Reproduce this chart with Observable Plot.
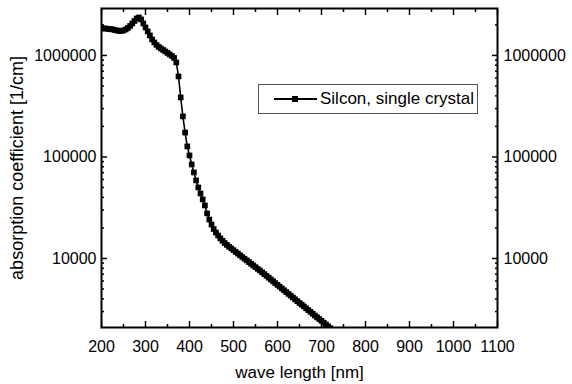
<!DOCTYPE html>
<html>
<head>
<meta charset="utf-8">
<script src="https://cdn.jsdelivr.net/npm/d3@7"></script>
<script src="https://cdn.jsdelivr.net/npm/@observablehq/plot@0.6"></script>
<style>
  html, body { margin: 0; padding: 0; background: #fff; }
  #wrap { position: relative; width: 572px; height: 384px; font-family: "Liberation Sans", Arial, sans-serif; }
  #legend { position: absolute; left: 258px; top: 84px; width: 220px; height: 30px; box-sizing: border-box;
            border: 1px solid #555; background: #fff; }
  #legend svg { position: absolute; left: 0; top: 0; }
  #legend span { position: absolute; left: 61px; top: 4px; font-size: 17px; color: #000; white-space: nowrap; }
</style>
</head>
<body>
<div id="wrap"></div>
<script>
const wavelength = [200,205,210,215,220,225,230,235,240,245,250,255,260,265,270,275,280,285,290,295,
  300,305,310,315,320,325,330,335,340,345,350,355,360,365,370,375,380,385,390,395,
  400,405,410,415,420,425,430,435,440,445,450,455,460,465,470,475,480,485,490,495,
  500,505,510,515,520,525,530,535,540,545,550,555,560,565,570,575,580,585,590,595,
  600,605,610,615,620,625,630,635,640,645,650,655,660,665,670,675,680,685,690,695,
  700,705,710,715,720,725,730];
const absorption = [1845000,1850000,1840000,1824000,1820000,1804000,1783000,1763000,1743000,1745000,
  1763000,1804000,1866000,1952000,2067000,2187000,2314000,2368000,2263000,2067000,
  1887000,1724000,1574000,1437000,1343000,1269000,1213000,1172000,1133000,1095000,
  1058000,1023000,989000,945000,853000,621000,386000,251000,174000,127000,
  103500,84400,70400,58700,50100,43700,38200,33300,27800,24200,
  21600,19500,18000,16850,15800,14950,14200,13600,13050,12550,
  12070,11600,11180,10750,10340,9950,9580,9220,8870,8530,
  8210,7900,7620,7310,7020,6740,6470,6210,5960,5720,
  5490,5280,5060,4860,4670,4480,4300,4130,3960,3800,
  3650,3510,3370,3230,3100,2980,2860,2740,2630,2530,
  2430,2330,2240,2150,2060,1980,1900];

const xMajorTicks = [200,300,400,500,600,700,800,900,1000,1100];
const xMinorTicks = [250,350,450,550,650,750,850,950,1050];
const yMajorTicks = [10000,100000,1000000];
const yMinorTicks = [3000,4000,5000,6000,7000,8000,9000,
  20000,30000,40000,50000,60000,70000,80000,90000,
  200000,300000,400000,500000,600000,700000,800000,900000,2000000];
const xDomain = [200, 1100];
const yDomain = [2090, 2900000];
const seriesName = "Silcon, single crystal";
const xTitle = "wave length [nm]";
const yTitle = "absorption coefficient [1/cm]";

const data = wavelength.map((w, i) => ({w, a: absorption[i]}));
const noText = () => "";
const fmt = d => String(d);

const chart = Plot.plot({
  width: 572,
  height: 384,
  marginLeft: 101,
  marginRight: 75,
  marginTop: 8,
  marginBottom: 57,
  style: {fontFamily: "'Liberation Sans', Arial, sans-serif", fontSize: "16px", color: "#000", background: "#fff"},
  x: {domain: xDomain},
  y: {type: "log", domain: yDomain},
  marks: [
    Plot.line(data, {x: "w", y: "a", stroke: "#000", strokeWidth: 1.6, clip: true}),
    Plot.dot(data, {x: "w", y: "a", symbol: "square", r: 3.2, fill: "#000", stroke: "none", clip: true}),
    Plot.axisX(xMajorTicks, {anchor: "bottom", tickSize: -6, tickPadding: 19, tickFormat: fmt, strokeWidth: 1.5,
      label: null, fontSize: 16}),
    Plot.axisX(xMajorTicks, {anchor: "bottom", tickSize: 0, tickFormat: noText,
      label: xTitle, labelAnchor: "center", labelOffset: 50, labelArrow: "none", fontSize: 17}),
    Plot.axisX(xMinorTicks, {anchor: "bottom", tickSize: -3, tickFormat: noText, label: null, strokeWidth: 1.5}),
    Plot.axisX(xMajorTicks, {anchor: "top", tickSize: -6, tickFormat: noText, label: null, strokeWidth: 1.5}),
    Plot.axisX(xMinorTicks, {anchor: "top", tickSize: -3, tickFormat: noText, label: null, strokeWidth: 1.5}),
    Plot.axisY(yMajorTicks, {anchor: "left", tickSize: -6, tickPadding: 11, tickFormat: fmt, strokeWidth: 1.5,
      label: null, fontSize: 16}),
    Plot.axisY(yMajorTicks, {anchor: "left", tickSize: 0, tickFormat: noText,
      label: yTitle, labelAnchor: "center", labelOffset: 91, labelArrow: "none", fontSize: 18}),
    Plot.axisY(yMinorTicks, {anchor: "left", tickSize: -3, tickFormat: noText, label: null, strokeWidth: 1.5}),
    Plot.axisY(yMajorTicks, {anchor: "right", tickSize: -6, tickPadding: 12, tickFormat: fmt, label: null, strokeWidth: 1.5, fontSize: 16}),
    Plot.axisY(yMinorTicks, {anchor: "right", tickSize: -3, tickFormat: noText, label: null, strokeWidth: 1.5}),
    Plot.frame({stroke: "#000", strokeWidth: 2})
  ]
});
const wrap = document.getElementById("wrap");
wrap.appendChild(chart);

// legend built from the series name
const legend = document.createElement("div");
legend.id = "legend";
legend.innerHTML = `<svg width="60" height="28"><line x1="15" x2="58" y1="14" y2="14" stroke="#000" stroke-width="2"/><rect x="33" y="11" width="6" height="6" fill="#000"/></svg><span></span>`;
legend.querySelector("span").textContent = seriesName;
wrap.appendChild(legend);
</script>
</body>
</html>
